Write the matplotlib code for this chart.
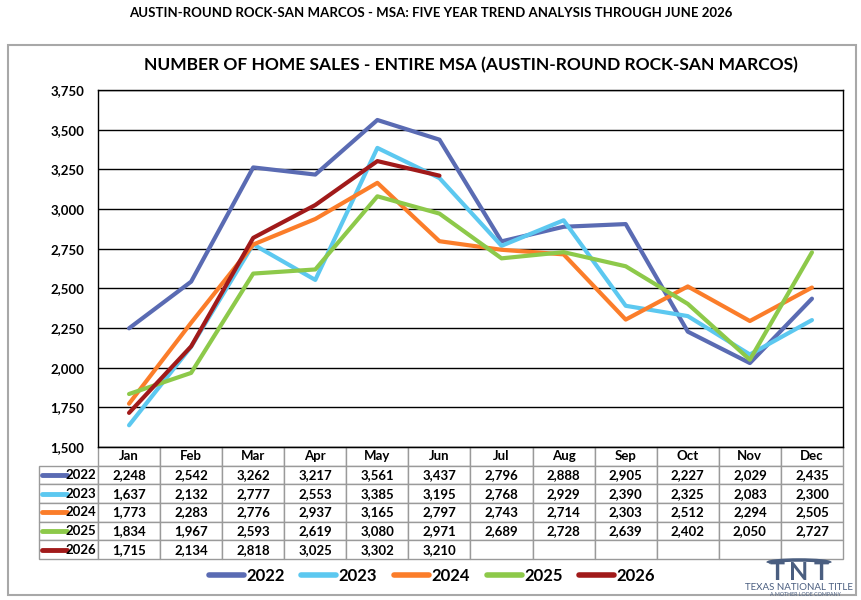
import matplotlib
matplotlib.use("Agg")
import matplotlib.pyplot as plt
import matplotlib.patches as patches
from matplotlib.lines import Line2D
from matplotlib.ticker import FuncFormatter, MultipleLocator

plt.rcParams['font.family'] = ['Lato', 'DejaVu Sans']

# --- data ---
months = ["Jan", "Feb", "Mar", "Apr", "May", "Jun",
          "Jul", "Aug", "Sep", "Oct", "Nov", "Dec"]
years = ["2022", "2023", "2024", "2025", "2026"]
sales_2022 = [2248, 2542, 3262, 3217, 3561, 3437, 2796, 2888, 2905, 2227, 2029, 2435]
sales_2023 = [1637, 2132, 2777, 2553, 3385, 3195, 2768, 2929, 2390, 2325, 2083, 2300]
sales_2024 = [1773, 2283, 2776, 2937, 3165, 2797, 2743, 2714, 2303, 2512, 2294, 2505]
sales_2025 = [1834, 1967, 2593, 2619, 3080, 2971, 2689, 2728, 2639, 2402, 2050, 2727]
sales_2026 = [1715, 2134, 2818, 3025, 3302, 3210]
series = [sales_2022, sales_2023, sales_2024, sales_2025, sales_2026]
colors = ["#5a6bb3", "#5cc8f0", "#fb7d2a", "#8dc94a", "#a11a1a"]

W, H = 862, 600
fig = plt.figure(figsize=(W / 100, H / 100), dpi=100)

def px(x0, y0, x1, y1):
    # pixel box (top-left origin) -> figure fraction rect
    return [x0 / W, 1 - y1 / H, (x1 - x0) / W, (y1 - y0) / H]

# outer frame
fig.patches.append(patches.Rectangle((8 / W, 1 - 595 / H), 848 / W, 550 / H,
                                     transform=fig.transFigure, fill=False,
                                     edgecolor="#a8a8a8", lw=1.5))

fig.text(0.5, 1 - 13 / H, "AUSTIN-ROUND ROCK-SAN MARCOS - MSA: FIVE YEAR TREND ANALYSIS THROUGH JUNE 2026",
         ha="center", va="center", fontsize=9.5, fontweight="bold")

ax = fig.add_axes(px(98, 90, 843, 447))
ax.set_title("NUMBER OF HOME SALES - ENTIRE MSA (AUSTIN-ROUND ROCK-SAN MARCOS)",
             fontsize=12.5, fontweight="bold", pad=14)

x = list(range(12))
for vals, c, yr in zip(series, colors, years):
    ax.plot(x[:len(vals)], vals, color=c, lw=3, label=yr, solid_capstyle="round")

ax.set_xlim(-0.5, 11.5)
ax.set_ylim(1500, 3750)
ax.yaxis.set_major_locator(MultipleLocator(250))
ax.yaxis.set_major_formatter(FuncFormatter(lambda v, p: f"{int(v):,}"))
ax.grid(axis="y", color="black", lw=1)
ax.set_axisbelow(True)
ax.set_xticks([])
ax.tick_params(axis="y", length=0, pad=10, labelsize=9.5)
for lbl in ax.get_yticklabels():
    lbl.set_fontweight("bold")
for s in ax.spines.values():
    s.set_color("black")
    s.set_linewidth(1)

# --- data table below the axes ---
axw = 843 - 98
axh = 447 - 90
label_w = 98 - 39
tab_h = (559 - 447) / axh
cell_text = []
for vals in series:
    row = [""] + [f"{v:,}" for v in vals] + [""] * (12 - len(vals))
    cell_text.append(row)
col_widths = [label_w] + [axw / 12] * 12
tbl = ax.table(cellText=cell_text, colLabels=[""] + months,
               colWidths=col_widths, cellLoc="center",
               bbox=[-label_w / axw, -tab_h, (axw + label_w) / axw, tab_h])
tbl.auto_set_font_size(False)
tbl.set_fontsize(9.5)
for (r, c), cell in tbl.get_celld().items():
    cell.set_edgecolor("#9a9a9a")
    cell.set_linewidth(1)
    cell.get_text().set_fontweight("bold")
    if r == 0 and c == 0:
        cell.visible_edges = "open"

row_h = tab_h / 6
x_left = -label_w / axw
for i, (c, yr) in enumerate(zip(colors, years)):
    yc = -(i + 1.5) * row_h
    ax.add_line(Line2D([x_left + 3 / axw, x_left + 28 / axw], [yc, yc], color=c, lw=3.5,
                       transform=ax.transAxes, clip_on=False, solid_capstyle="round"))
    ax.text(-2 / axw, yc, yr, transform=ax.transAxes, ha="right", va="center",
            fontsize=9.5, fontweight="bold")

# legend
leg = fig.legend(loc="center", bbox_to_anchor=(432 / W, 1 - 576 / H), ncol=5,
                 frameon=False, fontsize=12, handlelength=2.1, handletextpad=0.15,
                 columnspacing=1.0)
for t in leg.get_texts():
    t.set_fontweight("bold")
for h in leg.get_lines():
    h.set_linewidth(4)

# TNT logo
logo = "#4a5e80"
for lx, ch in zip([777, 799, 821], "TNT"):
    fig.text(lx / W, 1 - 580 / H, ch, ha="center", va="baseline", fontsize=18,
             fontweight="bold", color=logo)
arc = patches.Arc((799 / W, 1 - 563 / H), 62 / W, 6 / H, theta1=0, theta2=180,
                  transform=fig.transFigure, color=logo, lw=2.5)
fig.patches.append(arc)
fig.text(799 / W, 1 - 588 / H, "TEXAS NATIONAL TITLE", ha="center", va="center",
         fontsize=7, color=logo)
fig.text(805 / W, 1 - 594.5 / H, "A MOTHER LODE COMPANY", ha="center", va="center",
         fontsize=3.8, color=logo)

fig.savefig("out.png", dpi=100)
